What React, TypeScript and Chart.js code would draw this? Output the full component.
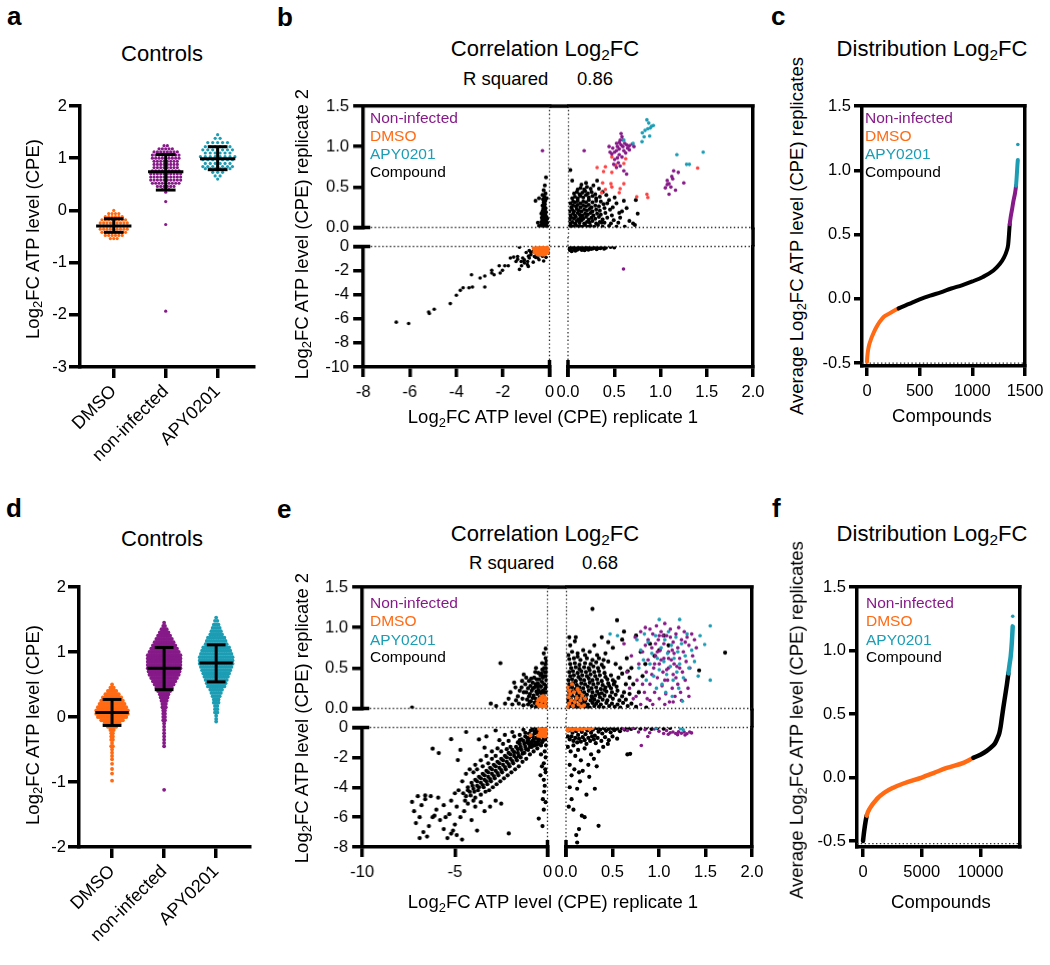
import React, { useEffect, useRef } from "react";
import { Chart, registerables } from "chart.js";
Chart.register(...registerables);

const FONT = "'Liberation Sans', Arial, Helvetica, sans-serif";
Chart.defaults.font.family = FONT;
Chart.defaults.color = "#000";

const COL_DMSO = "#FF6A13";
const COL_NONINF = "#861A88";
const COL_APY = "#1C9DB4";
const COL_RED = "#FF4242";
const COL_CMP = "#000000";
const catColor: any = { D: COL_DMSO, N: COL_NONINF, A: COL_APY, C: COL_CMP };
const AXW = 3.5;

const groupLabels = ["DMSO", "non-infected", "APY0201"];
const legendNames = ["Non-infected", "DMSO", "APY0201", "Compound"];
const legendColors = [COL_NONINF, COL_DMSO, COL_APY, COL_CMP];

// ---------- panel a (controls, screen 1): rows of [value, count] ----------
const aDmsoRows = [0.0,1, -0.06,4, -0.12,6, -0.18,8, -0.24,9, -0.3,9, -0.36,9, -0.42,8, -0.48,6, -0.54,3];
const aNonInfRows = [1.24,2, 1.18,5, 1.12,8, 1.06,9, 1.0,9, 0.94,8, 0.88,8, 0.82,8, 0.76,9, 0.7,10, 0.64,10, 0.58,10, 0.52,9, 0.46,6, 0.4,3, 0.35,1, 0.17,1, -0.27,1, -1.93,1];
const aApyRows = [1.45,1, 1.38,2, 1.3,5, 1.22,6, 1.16,7, 1.1,6, 1.03,8, 0.97,7, 0.9,6, 0.84,7, 0.8,6, 0.73,3, 0.66,2, 0.6,1];
const aMean = [-0.3, 0.74, 0.99];
const aSdLow = [-0.42, 0.39, 0.78];
const aSdHigh = [-0.16, 1.07, 1.22];

// ---------- panel d (controls, screen 2) ----------
const dDmsoRows = [0.5,1, 0.45,3, 0.4,6, 0.35,9, 0.3,12, 0.25,14, 0.2,16, 0.15,18, 0.1,20, 0.05,20, 0.0,18, -0.05,14, -0.1,10, -0.15,6, -0.2,3, -0.25,2, -0.3,2, -0.35,2, -0.4,1, -0.45,2, -0.5,1, -0.55,1, -0.6,1, -0.65,1, -0.72,1, -0.8,1, -0.87,1, -0.98,1];
const dNonInfRows = [1.45,1, 1.4,2, 1.35,4, 1.3,6, 1.25,8, 1.2,10, 1.15,12, 1.1,14, 1.05,16, 1.0,18, 0.95,20, 0.9,20, 0.85,20, 0.8,20, 0.75,20, 0.7,19, 0.65,18, 0.6,16, 0.55,14, 0.5,12, 0.45,10, 0.4,8, 0.35,6, 0.3,5, 0.25,4, 0.2,3, 0.15,3, 0.1,2, 0.05,2, 0.0,2, -0.05,2, -0.1,1, -0.15,1, -0.2,1, -0.25,1, -0.3,1, -0.35,1, -0.4,1, -0.45,1, -1.12,1];
const dApyRows = [1.53,1, 1.48,2, 1.42,3, 1.37,4, 1.32,5, 1.27,6, 1.22,8, 1.17,9, 1.12,10, 1.07,12, 1.02,13, 0.97,14, 0.92,15, 0.87,15, 0.82,15, 0.77,14, 0.72,13, 0.67,12, 0.62,11, 0.57,10, 0.52,9, 0.47,8, 0.42,6, 0.37,5, 0.32,4, 0.27,3, 0.22,3, 0.17,2, 0.12,2, 0.07,2, 0.02,1, -0.03,1, -0.07,1];
const dMean = [0.07, 0.75, 0.83];
const dSdLow = [-0.13, 0.42, 0.54];
const dSdHigh = [0.27, 1.07, 1.11];

// ---------- panel b (replicate 1 vs replicate 2, screen 1), flat [x,y,...] ----------
const bTL_cmp = [-0.3,0.01, -0.2,0.01, -0.1,0.01, -0.35,0.03, -0.25,0.03, -0.15,0.03, -0.3,0.05, -0.2,0.05, -0.1,0.06, -0.35,0.07, -0.25,0.08, -0.15,0.08, -0.3,0.1, -0.2,0.1, -0.1,0.11, -0.33,0.12, -0.23,0.13, -0.13,0.13, -0.28,0.15, -0.18,0.16, -0.35,0.17, -0.25,0.18, -0.15,0.19, -0.3,0.2, -0.2,0.21, -0.27,0.23, -0.17,0.24, -0.23,0.26, -0.3,0.27, -0.2,0.29, -0.25,0.31, -0.18,0.33, -0.28,0.35, -0.22,0.38, -0.17,0.42, -0.25,0.46, -0.2,0.52, -0.15,0.62, -0.6,0.33, -0.45,0.36, -0.5,0.06, -0.45,0.02, -0.12,0.36, -0.3,0.4];
const bTL_non = [-0.3,0.95];
const bTR_cmp = [0.01,0.01, 0.03,0.02, 0.05,0.01, 0.08,0.03, 0.1,0.01, 0.12,0.02, 0.15,0.01, 0.18,0.03, 0.21,0.01, 0.24,0.02, 0.28,0.01, 0.32,0.03, 0.37,0.01, 0.44,0.02, 0.52,0.01, 0.61,0.01,
 0.02,0.05, 0.04,0.07, 0.07,0.05, 0.09,0.08, 0.12,0.06, 0.14,0.09, 0.17,0.05, 0.2,0.07, 0.23,0.06, 0.26,0.08, 0.3,0.05, 0.34,0.07, 0.39,0.06, 0.46,0.05,
 0.01,0.1, 0.03,0.12, 0.06,0.11, 0.08,0.13, 0.11,0.1, 0.13,0.12, 0.16,0.11, 0.19,0.13, 0.22,0.1, 0.25,0.12, 0.29,0.11, 0.33,0.13, 0.37,0.1, 0.42,0.12, 0.49,0.09,
 0.02,0.15, 0.05,0.17, 0.07,0.15, 0.1,0.18, 0.12,0.16, 0.15,0.15, 0.18,0.17, 0.21,0.16, 0.24,0.18, 0.27,0.15, 0.31,0.17, 0.35,0.16, 0.4,0.18, 0.47,0.15,
 0.01,0.2, 0.04,0.22, 0.06,0.2, 0.09,0.23, 0.11,0.21, 0.14,0.2, 0.17,0.22, 0.2,0.21, 0.23,0.23, 0.26,0.2, 0.3,0.22, 0.34,0.21, 0.39,0.24, 0.45,0.22,
 0.03,0.25, 0.05,0.27, 0.08,0.26, 0.1,0.28, 0.13,0.25, 0.16,0.27, 0.19,0.26, 0.22,0.28, 0.25,0.25, 0.29,0.27, 0.33,0.26, 0.38,0.29,
 0.02,0.3, 0.05,0.32, 0.07,0.31, 0.1,0.33, 0.13,0.3, 0.16,0.32, 0.19,0.31, 0.22,0.34, 0.26,0.31, 0.3,0.33, 0.35,0.32, 0.42,0.3,
 0.04,0.36, 0.07,0.38, 0.1,0.36, 0.13,0.39, 0.16,0.37, 0.19,0.4, 0.22,0.37, 0.26,0.39, 0.3,0.36, 0.34,0.38,
 0.06,0.42, 0.09,0.44, 0.12,0.41, 0.15,0.43, 0.18,0.45, 0.21,0.42, 0.25,0.44, 0.29,0.41,
 0.1,0.47, 0.13,0.49, 0.17,0.47, 0.2,0.5, 0.24,0.48, 0.14,0.53, 0.19,0.55, 0.27,0.52,
 0.02,0.71, 0.04,0.58, 0.48,0.25, 0.52,0.3, 0.55,0.18, 0.58,0.2, 0.6,0.33, 0.63,0.24, 0.56,0.12, 0.66,0.08, 0.7,0.05, 0.72,0.03, 0.73,0.34, 0.75,0.17, 0.5,0.37, 0.44,0.34, 0.41,0.4, 0.37,0.44, 0.33,0.48, 0.31,0.58, 0.36,0.06, 0.54,0.06];
const bTR_non = [0.57,1.02, 0.55,1.05, 0.59,1.0, 0.53,1.0, 0.61,1.04, 0.56,1.08, 0.58,1.12, 0.57,1.16, 0.55,0.97, 0.52,0.95, 0.5,0.93, 0.48,0.98, 0.47,0.91, 0.45,0.93, 0.63,1.02, 0.66,1.01, 0.69,1.03, 0.71,1.0, 0.6,0.95, 0.62,0.92, 0.55,0.9, 0.53,0.86, 0.5,0.84, 0.58,0.87, 0.54,0.8, 0.52,0.74, 0.56,0.76, 0.49,0.78, 0.6,0.7, 0.63,0.66, 0.66,0.96, 0.44,1.0, 0.59,1.08, 0.52,1.04, 0.64,0.98,
 0.17,0.95, 1.14,0.7, 1.19,0.68, 1.12,0.63, 1.07,0.58, 1.09,0.54, 1.05,0.49, 1.11,0.5, 1.07,0.53, 1.25,0.55, 1.09,0.41, 1.13,0.6, 1.16,0.46];
const bTR_apy = [0.85,1.33, 0.87,1.29, 0.886,1.23, 0.9,1.25, 0.86,1.22, 0.8,1.17, 0.83,1.2, 0.88,1.13, 0.82,1.12, 0.797,1.06, 0.7,1.04, 0.6,1.08, 0.92,1.26, 1.175,0.9, 1.46,0.93, 1.28,0.78, 1.31,0.78];
const bTR_red = [0.31,0.74, 0.4,0.75, 0.47,0.87, 0.62,0.85, 0.6,0.79, 0.51,0.77, 0.38,0.69, 0.47,0.68, 0.37,0.55, 0.46,0.54, 0.6,0.54, 0.4,0.47, 0.36,0.43, 0.55,0.43, 0.74,0.38, 0.85,0.41, 0.86,0.37, 0.47,0.5, 0.56,0.48, 1.4,0.735];
const bBL_cmp = [-6.58,-6.28, -6.05,-6.39, -5.19,-5.43, -5.16,-5.56, -4.95,-5.21, -4.26,-4.74, -4.0,-4.05, -3.83,-3.64, -3.71,-3.42, -3.46,-3.42, -3.31,-3.36, -2.78,-3.36, -3.35,-2.34, -2.98,-2.62, -2.78,-2.45, -2.48,-1.98, -2.48,-2.2, -2.38,-2.34, -2.16,-1.6, -2.12,-2.2, -2.02,-1.98, -1.92,-1.6, -1.77,-1.6, -1.68,-0.96, -1.54,-0.88, -1.44,-1.24, -1.37,-0.83, -1.29,-1.9, -1.22,-1.24, -1.15,-0.96, -1.08,-1.37, -1.0,-0.5, -0.94,-1.24, -0.91,-1.65, -0.87,-0.96, -0.8,-0.69, -0.72,-0.41, -0.65,-0.83, -0.58,-0.55, -0.5,-0.96, -0.43,-0.69, -0.29,-0.6, -0.07,-0.33, -0.02,-0.55, -1.29,-0.06, -0.87,-0.33, -1.37,-1.05, -1.08,-1.1,
 -0.1,-0.2, -0.2,-0.5, -0.3,-0.8, -0.15,-0.9, -0.45,-1.1, -0.6,-0.9, -0.7,-1.3, -0.8,-0.5, -0.95,-1.5, -1.1,-1.2, -0.35,-0.3, -0.55,-0.7, -0.25,-1.2, -0.9,-0.8, -1.2,-1.6];
const bBL_dmso = [-0.6,-0.3, -0.55,-0.15, -0.5,-0.45, -0.48,-0.25, -0.45,-0.1, -0.42,-0.55, -0.4,-0.35, -0.38,-0.2, -0.35,-0.05, -0.33,-0.45, -0.3,-0.3, -0.28,-0.15, -0.25,-0.5, -0.22,-0.4, -0.2,-0.25, -0.18,-0.1, -0.15,-0.35, -0.12,-0.2, -0.1,-0.45, -0.08,-0.05, -0.35,-0.6, -0.5,-0.6, -0.62,-0.45, -0.27,-0.62, -0.2,-0.55, -0.65,-0.15, -0.45,-0.4, -0.3,-0.08, -0.15,-0.05, -0.55,-0.35];
const bBR_cmp = [0.01,-0.05, 0.03,-0.15, 0.05,-0.08, 0.07,-0.25, 0.09,-0.05, 0.11,-0.18, 0.13,-0.1, 0.15,-0.3, 0.17,-0.06, 0.19,-0.2, 0.21,-0.12, 0.24,-0.08, 0.27,-0.16, 0.3,-0.06, 0.33,-0.12, 0.37,-0.05, 0.41,-0.1, 0.46,-0.04, 0.5,-0.08, 0.02,-0.3, 0.04,-0.4, 0.06,-0.12, 0.08,-0.35, 0.1,-0.28, 0.12,-0.04, 0.14,-0.22, 0.16,-0.14, 0.18,-0.32, 0.2,-0.04, 0.22,-0.26, 0.25,-0.2, 0.28,-0.1, 0.31,-0.22, 0.35,-0.15, 0.39,-0.18];
const bBR_non = [0.6,-1.87];

// ---------- panel e (replicate 1 vs replicate 2, screen 2) ----------
const eTL_cmp = [-0.05,0.02, -0.1,0.05, -0.15,0.1, -0.2,0.15, -0.08,0.2, -0.12,0.25, -0.18,0.3, -0.06,0.35, -0.1,0.4, -0.14,0.45, -0.08,0.5, -0.12,0.55, -0.1,0.62, -0.1,0.74, -0.2,0.68, -0.29,0.56,
 -0.3,0.03, -0.35,0.08, -0.28,0.13, -0.32,0.19, -0.25,0.22, -0.35,0.27, -0.3,0.33, -0.25,0.38, -0.33,0.43, -0.28,0.48,
 -0.45,0.04, -0.5,0.09, -0.42,0.14, -0.55,0.18, -0.48,0.23, -0.4,0.28, -0.52,0.31, -0.45,0.36, -0.38,0.41, -0.5,0.44,
 -0.62,0.02, -0.7,0.07, -0.65,0.12, -0.75,0.16, -0.6,0.21, -0.7,0.26, -0.64,0.3, -0.58,0.36, -0.72,0.38, -0.66,0.45,
 -0.85,0.03, -0.9,0.09, -0.8,0.13, -0.95,0.18, -0.85,0.22, -0.92,0.28, -0.8,0.32, -0.88,0.37,
 -1.05,0.05, -1.1,0.11, -1.0,0.15, -1.15,0.2, -1.05,0.25, -1.2,0.3, -1.0,0.34,
 -1.3,0.04, -1.35,0.12, -1.28,0.2, -1.4,0.26, -1.28,0.42, -1.37,0.34,
 -1.55,0.06, -1.6,0.15, -1.5,0.22, -1.73,0.26, -1.7,0.1, -2.0,0.2, -1.9,0.05, -2.29,0.06, -2.77,0.03, -3.06,0.06, -2.54,0.56, -7.31,0.01, -2.1,0.12, -1.8,0.32,
 -0.04,0.12, -0.16,0.2, -0.22,0.07, -0.06,0.28, -0.2,0.4, -0.04,0.45, -0.18,0.5, -0.05,0.58, -0.38,0.1, -0.4,0.2, -0.55,0.27, -0.78,0.25, -0.96,0.08, -1.15,0.38, -0.62,0.5];
const eTL_dmso = [-0.05,0.02, -0.15,0.04, -0.25,0.02, -0.35,0.05, -0.45,0.03, -0.55,0.06, -0.1,0.08, -0.2,0.1, -0.3,0.09, -0.4,0.12, -0.5,0.1, -0.15,0.14, -0.25,0.15, -0.35,0.13, -0.08,0.12];
const eTR_cmp = [0.02,0.01, 0.05,0.03, 0.09,0.02, 0.13,0.01, 0.17,0.03, 0.21,0.02, 0.25,0.01, 0.3,0.03, 0.35,0.02, 0.4,0.01, 0.46,0.03, 0.52,0.02, 0.58,0.01, 0.66,0.03, 0.75,0.02, 0.86,0.01,
 0.03,0.06, 0.07,0.07, 0.11,0.05, 0.15,0.07, 0.19,0.06, 0.23,0.05, 0.28,0.07, 0.32,0.06, 0.37,0.05, 0.43,0.07, 0.49,0.06, 0.55,0.05, 0.61,0.07, 0.7,0.06,
 0.01,0.1, 0.05,0.11, 0.09,0.09, 0.13,0.11, 0.17,0.1, 0.21,0.12, 0.26,0.1, 0.3,0.11, 0.34,0.09, 0.39,0.11, 0.44,0.1, 0.5,0.12, 0.57,0.1, 0.64,0.11,
 0.02,0.15, 0.06,0.16, 0.1,0.14, 0.14,0.16, 0.18,0.15, 0.22,0.17, 0.27,0.15, 0.31,0.16, 0.36,0.14, 0.41,0.16, 0.47,0.15, 0.53,0.17, 0.6,0.15,
 0.03,0.2, 0.07,0.21, 0.11,0.19, 0.15,0.21, 0.19,0.2, 0.24,0.22, 0.28,0.2, 0.33,0.21, 0.38,0.19, 0.43,0.21, 0.49,0.2, 0.55,0.22, 0.62,0.2,
 0.02,0.25, 0.06,0.26, 0.1,0.24, 0.14,0.26, 0.18,0.25, 0.23,0.27, 0.27,0.25, 0.32,0.26, 0.37,0.24, 0.42,0.26, 0.48,0.25, 0.54,0.27,
 0.03,0.3, 0.07,0.31, 0.11,0.29, 0.16,0.31, 0.2,0.3, 0.25,0.32, 0.29,0.3, 0.34,0.31, 0.39,0.29, 0.45,0.31, 0.51,0.3,
 0.02,0.35, 0.06,0.36, 0.1,0.34, 0.15,0.36, 0.19,0.35, 0.24,0.37, 0.28,0.35, 0.33,0.36, 0.38,0.34, 0.44,0.36, 0.5,0.35,
 0.04,0.4, 0.08,0.41, 0.13,0.39, 0.17,0.41, 0.22,0.4, 0.26,0.42, 0.31,0.4, 0.36,0.41, 0.42,0.39, 0.48,0.41,
 0.03,0.45, 0.07,0.46, 0.12,0.44, 0.16,0.46, 0.21,0.45, 0.25,0.47, 0.3,0.45, 0.35,0.46, 0.41,0.44,
 0.05,0.5, 0.1,0.51, 0.14,0.49, 0.19,0.51, 0.24,0.5, 0.29,0.52, 0.34,0.5, 0.4,0.51,
 0.04,0.55, 0.09,0.56, 0.14,0.54, 0.2,0.56, 0.26,0.55, 0.32,0.57, 0.38,0.54,
 0.03,0.61, 0.08,0.62, 0.15,0.6, 0.22,0.62, 0.28,0.6, 0.35,0.62,
 0.02,0.66, 0.06,0.7, 0.12,0.68, 0.04,0.78, 0.09,0.83, 0.03,0.88, 0.1,0.88, 0.18,0.72, 0.25,0.7, 0.3,0.78, 0.28,1.23, 0.42,0.68, 0.5,0.75, 0.545,1.09, 0.6,0.85, 0.65,0.62, 0.7,0.5, 0.75,0.9, 0.8,0.7, 0.85,0.55, 0.9,0.8, 0.95,0.65, 1.0,0.72, 1.05,0.9, 1.1,0.78, 0.72,0.3, 0.68,0.38, 0.78,0.2, 0.82,0.4, 1.43,0.47, 1.71,0.69, 0.38,0.88, 0.45,0.82, 0.62,0.95,
 0.05,0.08, 0.12,0.04, 0.2,0.09, 0.28,0.13, 0.35,0.18, 0.41,0.23, 0.46,0.28, 0.52,0.33, 0.56,0.38, 0.6,0.43, 0.64,0.3, 0.68,0.18, 0.66,0.46, 0.58,0.5, 0.53,0.55, 0.45,0.58, 0.4,0.6, 0.12,0.64, 0.2,0.66, 0.33,0.66];
const eTR_non = [0.62,0.8, 0.65,0.45, 0.68,0.25, 0.7,0.65, 0.72,0.12, 0.74,0.88, 0.76,0.35, 0.78,0.55, 0.8,0.05, 0.8,0.95, 0.82,0.7, 0.84,0.2, 0.85,1.0, 0.86,0.45, 0.88,0.6, 0.88,0.85, 0.9,0.3, 0.9,0.1, 0.92,0.75, 0.93,0.92, 0.94,0.5, 0.95,0.2, 0.96,0.65, 0.97,1.02, 0.98,0.38, 0.99,0.85, 1.0,0.55, 1.0,0.12, 1.01,0.72, 1.02,0.95, 1.03,0.28, 1.04,0.45, 1.05,0.8, 1.05,0.62, 1.06,1.05, 1.07,0.18, 1.08,0.9, 1.09,0.35, 1.1,0.7, 1.1,0.5, 1.11,0.08, 1.12,0.98, 1.13,0.6, 1.14,0.25, 1.15,0.82, 1.15,0.42, 1.16,0.68, 1.17,0.15, 1.18,0.92, 1.19,0.52, 1.2,0.75, 1.2,0.3, 1.21,1.0, 1.22,0.62, 1.23,0.2, 1.24,0.85, 1.25,0.45, 1.26,0.7, 1.27,0.95, 1.28,0.35, 1.29,0.58, 1.3,0.88, 1.31,0.25, 1.32,0.78, 1.33,0.5, 1.35,0.92, 1.36,0.65, 1.38,0.85, 1.4,0.75, 0.92,0.42, 0.96,0.8, 1.02,0.6, 1.08,0.48, 1.12,0.88, 1.16,0.55, 0.85,0.78, 0.9,0.98, 0.98,0.7, 1.04,0.9, 1.1,0.62, 1.18,0.38, 1.22,0.5, 1.28,0.82, 0.95,0.55, 1.0,0.9, 1.06,0.35, 1.14,0.72, 0.75,0.15, 0.82,0.3, 0.87,0.12, 0.93,0.05, 1.06,0.05, 1.15,0.08, 1.24,0.1, 1.32,0.15];
const eTR_apy = [0.47,0.92, 0.55,0.9, 1.0,1.1, 1.22,1.1, 1.55,1.02, 1.49,0.79, 1.55,0.35, 1.25,0.09, 0.78,0.5, 0.8,0.72, 0.83,0.6, 0.86,0.35, 0.88,0.82, 0.9,0.55, 0.92,0.68, 0.94,0.4, 0.96,0.9, 0.98,0.62, 1.0,0.48, 1.02,0.75, 1.03,0.3, 1.05,0.58, 1.06,0.85, 1.08,0.42, 1.09,0.68, 1.1,0.95, 1.12,0.52, 1.13,0.78, 1.15,0.35, 1.16,0.62, 1.18,0.88, 1.19,0.45, 1.2,0.7, 1.22,0.55, 1.24,0.8, 1.26,0.38, 1.28,0.65, 1.3,0.92, 1.32,0.5, 1.35,0.72, 1.38,0.58, 0.97,0.25, 1.07,0.2, 1.14,0.15, 1.21,0.25, 0.84,0.92, 0.76,0.85, 1.44,0.9, 1.42,0.4];
const eTR_dmso = [0.01,0.02, 0.03,0.06, 0.05,0.1, 0.02,0.14, 0.04,0.18, 0.07,0.03, 0.09,0.08, 0.11,0.13, 0.08,0.2, 0.13,0.05, 0.15,0.1, 0.17,0.16, 0.12,0.24, 0.19,0.04, 0.01,0.26, 0.06,0.3, 0.16,0.02, 0.2,0.12, 0.14,0.2, 0.03,0.22];
const eBL_cmp = [-0.1,-0.1, -0.2,-0.3, -0.3,-0.15, -0.4,-0.5, -0.5,-0.25, -0.6,-0.7, -0.7,-0.4, -0.8,-0.9, -0.9,-0.55, -1.0,-1.1, -1.1,-0.7, -1.2,-1.3, -1.3,-0.9, -1.4,-1.5, -1.5,-1.1, -1.6,-1.7, -1.7,-1.3, -1.8,-1.9, -1.9,-1.5, -2.0,-2.1, -2.1,-1.7, -2.2,-2.3, -2.3,-1.9, -2.4,-2.5, -2.5,-2.1, -2.6,-2.7, -2.7,-2.3, -2.8,-2.9, -2.9,-2.5, -3.0,-3.1, -3.1,-2.7, -3.2,-3.3, -3.3,-2.9, -3.4,-3.5, -3.5,-3.1, -3.6,-3.7, -3.7,-3.3, -3.8,-3.9, -3.9,-3.5, -4.0,-4.1, -4.1,-3.7, -4.2,-4.3, -4.3,-4.0, -4.4,-4.6,
 -0.15,-0.6, -0.25,-0.9, -0.35,-1.2, -0.45,-0.8, -0.55,-1.4, -0.65,-1.0, -0.75,-1.6, -0.85,-1.3, -0.95,-1.8, -1.05,-1.5, -1.15,-2.1, -1.25,-1.7, -1.35,-2.3, -1.45,-2.0, -1.55,-2.6, -1.65,-2.2, -1.75,-2.8, -1.85,-2.4, -1.95,-3.0, -2.05,-2.6, -2.15,-3.2, -2.25,-2.8, -2.35,-3.4, -2.45,-3.0, -2.55,-3.6, -2.65,-3.2, -2.75,-3.8, -2.85,-3.4, -2.95,-4.0, -3.05,-3.6, -3.15,-4.2, -3.25,-3.8, -3.35,-4.3, -3.45,-4.0, -3.6,-4.5, -3.75,-4.2, -3.9,-4.7,
 -0.3,-0.05, -0.6,-0.1, -0.9,-0.2, -1.2,-0.35, -1.5,-0.5, -1.8,-0.6, -2.1,-0.9, -2.4,-1.1, -2.7,-1.4, -3.0,-1.6, -3.3,-1.9, -3.6,-2.2, -3.9,-2.5, -4.2,-2.8, -4.4,-3.1, -0.8,-0.05, -1.3,-0.15, -1.9,-0.3, -2.3,-0.5, -2.6,-0.85, -3.4,-1.35,
 -0.05,-0.4, -0.12,-0.8, -0.08,-1.2, -0.15,-1.6, -0.1,-2.0, -0.2,-2.4, -0.12,-2.8, -0.3,-1.0, -0.35,-1.8, -0.4,-0.2, -0.5,-0.6, -0.5,-1.1, -0.6,-0.35, -0.7,-1.2, -0.8,-0.6, -0.9,-1.0, -1.0,-0.4, -1.1,-1.0, -1.2,-0.6, -1.4,-0.8,
 -0.2,-0.75, -0.35,-0.55, -0.5,-0.9, -0.6,-1.15, -0.75,-0.8, -0.85,-1.05, -0.95,-1.3, -1.05,-0.85, -1.15,-1.45, -1.25,-1.1, -1.35,-1.75, -1.45,-1.3, -1.55,-1.9, -1.6,-1.45, -1.7,-2.05, -1.8,-1.65, -1.9,-2.25, -2.0,-1.8, -2.1,-2.45, -2.2,-2.0, -2.3,-2.65, -2.4,-2.2, -2.5,-2.85, -2.6,-2.4, -2.7,-3.05, -2.8,-2.6, -2.9,-3.25, -3.0,-2.8, -3.1,-3.45, -3.2,-3.0, -3.3,-3.6, -3.4,-3.2, -3.5,-3.85, -3.6,-3.4, -3.7,-4.0, -3.8,-3.6, -3.95,-4.3, -4.05,-3.9, -4.15,-4.55, -4.3,-4.2, -4.45,-4.9, -4.55,-4.4, -1.0,-0.7, -1.5,-0.85, -2.0,-1.3, -2.5,-1.6, -3.0,-2.1, -3.5,-2.6, -4.0,-3.0, -0.7,-0.25, -1.6,-1.0, -2.2,-1.45, -2.8,-1.9, -3.2,-2.4, -3.8,-2.8, -4.6,-3.6, -4.8,-4.2, -5.0,-4.4,
 -0.2,-3.5, -0.18,-4.3, -0.25,-4.8, -0.2,-5.5, -0.38,-3.2, -0.47,-6.1, -0.27,-6.6, -0.1,-3.0, -0.15,-3.9, -0.3,-2.6, -0.1,-5.0,
 -7.31,-4.98, -7.0,-4.6, -6.8,-5.2, -6.6,-4.8, -7.2,-5.6, -6.9,-6.0, -7.1,-6.4, -6.7,-7.0, -6.9,-7.4, -6.5,-7.3, -6.4,-6.6, -6.2,-6.0, -6.0,-5.5, -5.8,-6.2, -5.6,-6.8, -5.4,-7.4, -5.2,-7.1, -5.0,-6.5, -5.3,-5.8, -5.6,-5.2, -5.9,-4.7, -6.3,-4.6, -5.2,-4.9, -4.9,-5.3, -4.7,-6.0, -4.61,-7.5, -4.5,-5.6, -4.3,-5.1, -4.1,-6.2, -3.8,-6.9, -3.9,-5.3, -4.0,-4.9, -3.6,-5.0, -3.4,-5.6, -3.1,-5.3, -2.8,-4.9, -2.09,-7.09, -2.5,-5.1, -6.6,-4.55, -6.1,-5.9, -5.5,-6.0, -5.1,-6.9, -4.9,-7.2,
 -6.2,-1.42, -5.87,-1.71, -5.2,-0.78, -4.84,-2.18, -4.39,-0.3, -3.7,-0.8, -3.3,-0.6, -4.7,-1.5, -2.8,-0.2];
const eBL_dmso = [-0.05,-0.05, -0.15,-0.15, -0.25,-0.05, -0.35,-0.2, -0.45,-0.1, -0.1,-0.3, -0.2,-0.4, -0.3,-0.5, -0.4,-0.35, -0.5,-0.55, -0.05,-0.5, -0.15,-0.6, -0.92,-0.53, -0.25,-0.25, -0.35,-0.6, -0.1,-0.2];
const eBR_cmp = [0.01,-0.05, 0.03,-0.2, 0.05,-0.1, 0.07,-0.35, 0.09,-0.05, 0.11,-0.25, 0.13,-0.5, 0.15,-0.12, 0.17,-0.3, 0.19,-0.05, 0.21,-0.45, 0.23,-0.2, 0.25,-0.08, 0.27,-0.35, 0.29,-0.15, 0.31,-0.55, 0.33,-0.05, 0.35,-0.28, 0.37,-0.12, 0.39,-0.4, 0.41,-0.06, 0.43,-0.22, 0.46,-0.1, 0.48,-0.32, 0.5,-0.05, 0.52,-0.18, 0.55,-0.08, 0.58,-0.25, 0.6,-0.04, 0.63,-0.14, 0.66,-0.06, 0.7,-0.1, 0.74,-0.03, 0.8,-0.08, 0.86,-0.04, 0.92,-0.1, 0.98,-0.05, 1.05,-0.08, 1.12,-0.03,
 0.02,-0.6, 0.04,-0.8, 0.06,-0.6, 0.08,-0.9, 0.1,-0.7, 0.12,-1.0, 0.14,-0.75, 0.16,-0.95, 0.18,-0.65, 0.2,-0.85, 0.22,-1.1, 0.24,-0.7, 0.26,-0.9, 0.28,-0.6, 0.3,-0.8, 0.32,-1.05, 0.34,-0.7, 0.38,-0.9, 0.42,-0.65, 0.46,-0.85, 0.5,-0.6, 0.55,-0.75,
 0.02,-1.3, 0.05,-1.6, 0.08,-1.2, 0.1,-1.9, 0.13,-1.5, 0.16,-2.2, 0.04,-2.5, 0.09,-2.8, 0.18,-2.9, 0.15,-3.6, 0.06,-3.2, 0.12,-4.1, 0.31,-4.1, 0.06,-4.8, 0.03,-5.3, 0.17,-5.9, 0.14,-6.8, 0.12,-7.7, 0.35,-6.58, 0.22,-4.5, 0.25,-3.3, 0.2,-1.4, 0.27,-1.8, 0.24,-2.5, 0.3,-2.1, 0.69,-1.76, 0.66,-1.8, 0.4,-1.3, 0.35,-1.6, 0.45,-1.1, 0.08,-5.5, 0.11,-7.2, 0.2,-6.0, 0.04,-4.0, 0.14,-3.0, 0.33,-2.6];
const eBR_non = [0.62,-0.1, 0.66,-0.2, 0.72,-0.05, 0.81,-1.2, 0.78,-0.3, 0.85,-0.15, 0.9,-0.35, 0.95,-0.1, 1.0,-0.25, 1.05,-0.4, 1.08,-0.2, 1.12,-0.35, 1.15,-0.3, 1.18,-0.4, 1.21,-0.28, 1.24,-0.38, 1.27,-0.3, 1.3,-0.42, 1.33,-0.3, 1.35,-0.36, 1.1,-0.45, 1.2,-0.48, 1.28,-0.5, 0.88,-0.6];
const eBR_apy = [1.23,-0.08, 1.26,-0.15, 0.97,-0.05];
const eBR_dmso = [0.01,-0.03, 0.03,-0.12, 0.05,-0.06, 0.07,-0.18, 0.09,-0.04, 0.11,-0.1, 0.13,-0.15, 0.15,-0.05, 0.17,-0.12, 0.19,-0.08, 0.22,-0.04, 0.25,-0.1, 0.28,-0.05, 0.02,-0.2];

// ---------- panel c / f: ranked averages ----------
const cRank = [0,3,10,20,40,60,90,120,160,200,240,300,400,500,600,700,800,900,1000,1100,1200,1260,1300,1325,1340,1348,1355,1365,1378,1390,1405,1415,1422,1428,1432];
const cAvg = [-0.49,-0.45,-0.4,-0.36,-0.31,-0.27,-0.22,-0.18,-0.14,-0.12,-0.1,-0.075,-0.04,-0.005,0.025,0.05,0.08,0.105,0.135,0.17,0.22,0.27,0.32,0.37,0.42,0.5,0.58,0.64,0.7,0.76,0.82,0.88,0.96,1.04,1.08];
const cCat = ["D","D","D","D","D","D","D","D","D","D","D","C","C","C","C","C","C","C","C","C","C","C","C","C","C","C","N","N","N","N","N","A","A","A","A"];
const cTopApy = [1432, 1.2];
const cCutoff = -0.5;
const fRank = [0,100,315,600,1170,1800,2580,3500,5000,6000,7130,8550,9400,10000,10540,11000,11245,11450,11610,11720,11810,11950,12100,12250,12380,12480,12580,12680,12750];
const fAvg = [-0.5,-0.42,-0.3,-0.24,-0.17,-0.12,-0.08,-0.045,0.0,0.035,0.075,0.115,0.155,0.18,0.21,0.245,0.27,0.31,0.35,0.4,0.46,0.55,0.64,0.73,0.82,0.89,0.955,1.07,1.19];
const fCat = ["C","C","D","D","D","D","D","D","D","D","D","D","C","C","C","C","C","C","C","C","C","C","C","C","A","A","A","A","C"];
const fTopApy = [12750, 1.27];
const fCutoff = -0.52;

// ---------- helpers ----------
const f1 = (v: number) => v.toFixed(1);
const pairs = (a: number[]) => {
  const out: any[] = [];
  for (let i = 0; i + 1 < a.length; i += 2) out.push({ x: a[i], y: a[i + 1] });
  return out;
};
const dots = (a: number[], color: string, r: number) => ({
  data: pairs(a), backgroundColor: color, borderColor: color, borderWidth: 0, pointRadius: r, pointHoverRadius: r,
});
const swarm = (rows: number[], center: number, step: number, color: string, r: number) => {
  const data: any[] = [];
  for (let i = 0; i + 1 < rows.length; i += 2) {
    const y = rows[i], n = rows[i + 1];
    for (let k = 0; k < n; k++) data.push({ x: center + (k - (n - 1) / 2) * step, y });
  }
  return { data, backgroundColor: color, borderWidth: 0, pointRadius: r, pointHoverRadius: r };
};
const seg = (x1: number, y1: number, x2: number, y2: number, w: number) => ({
  data: [{ x: x1, y: y1 }, { x: x2, y: y2 }], showLine: true, borderColor: "#000", backgroundColor: "#000", borderWidth: w, pointRadius: 0,
});
const errorBars = (mean: number[], lo: number[], hi: number[], hm: number, hc: number) => {
  const out: any[] = [];
  mean.forEach((m, i) => {
    out.push(seg(i, lo[i], i, hi[i], 3));
    out.push(seg(i - hc, hi[i], i + hc, hi[i], 3));
    out.push(seg(i - hc, lo[i], i + hc, lo[i], 3));
    out.push(seg(i - hm, m, i + hm, m, 3));
  });
  return out;
};
const curve = (ranks: number[], avgs: number[], cats: string[], w: number) => ({
  data: ranks.map((x, i) => ({ x, y: avgs[i] })), showLine: true, pointRadius: 0, borderWidth: w,
  borderColor: "#000", cubicInterpolationMode: "monotone", borderCapStyle: "round",
  segment: { borderColor: (ctx: any) => catColor[cats[ctx.p0DataIndex]] },
});
const refLine = (x1: number, x2: number, y: number) => ({
  data: [{ x: x1, y }, { x: x2, y }], showLine: true, pointRadius: 0, borderWidth: 1.3, borderColor: "#333", borderDash: [1.4, 2.4],
});

const breakPlugin: any = {
  id: "brk",
  beforeDatasetsDraw(chart: any, _a: any, o: any) {
    if (!o || !o.q) return;
    const { ctx, chartArea: a, scales } = chart;
    const q = o.q, gh = o.gh, gv = o.gv;
    const top = q[0] === "T", left = q[1] === "L";
    const xz = scales.x.getPixelForValue(0), yz = scales.y.getPixelForValue(0);
    ctx.save();
    ctx.strokeStyle = "#333"; ctx.lineWidth = 1.3; ctx.setLineDash([1.4, 2.4]);
    ctx.beginPath();
    ctx.moveTo(xz, top ? a.top : a.top - gv); ctx.lineTo(xz, top ? a.bottom + gv : a.bottom);
    ctx.moveTo(left ? a.left : a.left - gh, yz); ctx.lineTo(left ? a.right + gh : a.right, yz);
    ctx.stroke();
    ctx.restore();
  },
  afterDraw(chart: any, _a: any, o: any) {
    if (!o || !o.q) return;
    const { ctx, chartArea: a } = chart;
    const q = o.q, gh = o.gh, gv = o.gv;
    ctx.save();
    ctx.strokeStyle = "#000"; ctx.lineWidth = AXW; ctx.setLineDash([]);
    ctx.beginPath();
    if (q === "TL") {
      ctx.moveTo(a.right, a.top); ctx.lineTo(a.right + gh, a.top);
      ctx.moveTo(a.left - 10, a.bottom); ctx.lineTo(a.left + 7, a.bottom);
    } else if (q === "TR") {
      ctx.moveTo(a.left - gh, a.top); ctx.lineTo(a.left, a.top);
      ctx.moveTo(a.right, a.bottom); ctx.lineTo(a.right, a.bottom + gv);
    } else if (q === "BL") {
      ctx.moveTo(a.left - 10, a.top); ctx.lineTo(a.left + 7, a.top);
      ctx.moveTo(a.right, a.bottom - 7); ctx.lineTo(a.right, a.bottom + 10);
    } else if (q === "BR") {
      ctx.moveTo(a.right, a.top - gv); ctx.lineTo(a.right, a.top);
      ctx.moveTo(a.left, a.bottom - 7); ctx.lineTo(a.left, a.bottom + 10);
    }
    ctx.stroke();
    ctx.restore();
  },
};

function frameAxis(pos: string) {
  return {
    type: "linear", position: pos, display: true, min: 0, max: 1,
    grid: { display: false, drawTicks: false, drawOnChartArea: false, lineWidth: AXW, borderWidth: AXW, borderColor: "#000", drawBorder: true },
    border: { display: true, width: AXW, color: "#000" },
    ticks: { display: false },
    afterFit: (sc: any) => { if (pos === "top") sc.height = 0; else sc.width = 0; sc.paddingLeft = 0; sc.paddingRight = 0; sc.paddingTop = 0; sc.paddingBottom = 0; },
  };
}

function buildConfig(s: any) {
  const [el, et, er, eb] = s.ext;
  const showX = !!s.x.ticks, showY = !!s.y.ticks;
  const mkAxis = (a: any, hor: boolean) => {
    const shown = hor ? showX : showY;
    return {
      type: "linear", position: hor ? "bottom" : "left", display: shown, min: a.min, max: a.max,
      grid: { display: true, drawOnChartArea: false, drawTicks: true, tickLength: a.tickLen ?? 10, tickWidth: AXW, lineWidth: AXW, color: "#000", tickColor: "#000", borderWidth: AXW, borderColor: "#000", drawBorder: true },
      border: { display: true, width: AXW, color: "#000" },
      ticks: {
        autoSkip: false, padding: a.pad ?? 4, color: "#000", font: { family: FONT, size: a.size ?? 16.5 },
        minRotation: a.rot ?? 0, maxRotation: a.rot ?? 0,
        callback: (v: number) => (a.fmt ? a.fmt(v) : String(v)),
      },
      afterBuildTicks: (sc: any) => { sc.ticks = (a.ticks || []).map((v: number) => ({ value: v })); },
      afterFit: (sc: any) => {
        if (!shown) return;
        if (hor) sc.height = eb; else sc.width = el;
        sc.paddingLeft = 0; sc.paddingRight = 0; sc.paddingTop = 0; sc.paddingBottom = 0;
      },
    };
  };
  const scales: any = { x: mkAxis(s.x, true), y: mkAxis(s.y, false) };
  if (s.frameTop) scales.xt = frameAxis("top");
  if (s.frameRight) scales.yr = frameAxis("right");
  // Chart.js paints the first dataset last; reverse so that later entries sit on top
  return {
    type: "scatter",
    data: { datasets: s.datasets.slice().reverse() },
    options: {
      responsive: false, maintainAspectRatio: false, animation: false, devicePixelRatio: 1, events: [],
      layout: { padding: { left: showY ? 0 : el, top: et, right: er, bottom: showX ? 0 : eb } },
      plugins: { legend: { display: false }, tooltip: { enabled: false }, brk: s.brk || false },
      scales,
    },
    plugins: [breakPlugin],
  };
}

function Panel({ spec }: { spec: any }) {
  const ref = useRef<HTMLCanvasElement>(null);
  useEffect(() => {
    const chart = new Chart(ref.current as HTMLCanvasElement, buildConfig(spec) as any);
    return () => chart.destroy();
  }, []);
  const [L, T, R, B] = spec.area;
  const [el, et, er, eb] = spec.ext;
  const w = R - L + el + er, h = B - T + et + eb;
  return <canvas ref={ref} width={w} height={h} style={{ position: "absolute", left: L - el, top: T - et, width: w, height: h }} />;
}

// ---------- specs ----------
const R_B = 2.0, R_E = 2.1, R_C = 1.8;
const yQuadTop = (ticks: boolean) => ({ min: 0, max: 1.5, ticks: ticks ? [0, 0.5, 1, 1.5] : undefined, fmt: f1, tickLen: 10, pad: 4 });

const specA = {
  area: [80, 106, 254, 367], ext: [62, 12, 10, 110],
  x: { min: -0.65, max: 2.7, ticks: [0, 1, 2], fmt: (v: number) => groupLabels[v], rot: 45, size: 18, tickLen: 11, pad: 3 },
  y: { min: -3, max: 2, ticks: [-3, -2, -1, 0, 1, 2], tickLen: 11, pad: 2 },
  datasets: [
    swarm(aDmsoRows, 0, 0.065, COL_DMSO, 1.6),
    swarm(aNonInfRows, 1, 0.064, COL_NONINF, 1.6),
    swarm(aApyRows, 2, 0.095, COL_APY, 1.6),
    ...errorBars(aMean, aSdLow, aSdHigh, 0.34, 0.19),
  ],
};
const specD = {
  area: [79, 587, 250, 847], ext: [62, 12, 10, 110],
  x: { min: -0.635, max: 2.65, ticks: [0, 1, 2], fmt: (v: number) => groupLabels[v], rot: 45, size: 18, tickLen: 11, pad: 3 },
  y: { min: -2, max: 2, ticks: [-2, -1, 0, 1, 2], tickLen: 11, pad: 2 },
  datasets: [
    swarm(dDmsoRows, 0, 0.032, COL_DMSO, 1.9),
    swarm(dNonInfRows, 1, 0.033, COL_NONINF, 1.9),
    swarm(dApyRows, 2, 0.045, COL_APY, 1.9),
    ...errorBars(dMean, dSdLow, dSdHigh, 0.32, 0.18),
  ],
};

const specBTL = {
  area: [363, 106, 549, 227], ext: [50, 12, 9.5, 9.5], frameTop: true, brk: { q: "TL", gh: 9.5, gv: 9.5 },
  x: { min: -8, max: 0 }, y: yQuadTop(true),
  datasets: [dots(bTL_cmp, COL_CMP, R_B), dots(bTL_non, COL_NONINF, R_C)],
};
const specBTR = {
  area: [568, 106, 753, 227], ext: [9.5, 12, 8, 9.5], frameTop: true, frameRight: true, brk: { q: "TR", gh: 9.5, gv: 9.5 },
  x: { min: 0, max: 2 }, y: yQuadTop(false),
  datasets: [dots(bTR_cmp, COL_CMP, R_B), dots(bTR_red, COL_RED, R_C), dots(bTR_non, COL_NONINF, R_C), dots(bTR_apy, COL_APY, R_C)],
};
const specBBL = {
  area: [363, 246, 549, 367], ext: [50, 9.5, 9.5, 45], brk: { q: "BL", gh: 9.5, gv: 9.5 },
  x: { min: -8, max: 0, ticks: [-8, -6, -4, -2, 0], tickLen: 10, pad: 6 },
  y: { min: -10, max: 0, ticks: [-10, -8, -6, -4, -2, 0], tickLen: 10, pad: 4 },
  datasets: [dots(bBL_cmp, COL_CMP, R_C), dots(bBL_dmso, COL_DMSO, 2.6)],
};
const specBBR = {
  area: [568, 246, 753, 367], ext: [14, 9.5, 18, 45], frameRight: true, brk: { q: "BR", gh: 9.5, gv: 9.5 },
  x: { min: 0, max: 2, ticks: [0, 0.5, 1, 1.5, 2], fmt: f1, tickLen: 10, pad: 6 },
  y: { min: -10, max: 0 },
  datasets: [dots(bBR_cmp, COL_CMP, R_B), dots(bBR_non, COL_NONINF, R_C)],
};

const specETL = {
  area: [362, 587, 547, 708], ext: [50, 12, 9.5, 9.5], frameTop: true, brk: { q: "TL", gh: 9.5, gv: 9.5 },
  x: { min: -10, max: 0 }, y: yQuadTop(true),
  datasets: [dots(eTL_cmp, COL_CMP, R_E), dots(eTL_dmso, COL_DMSO, R_E)],
};
const specETR = {
  area: [566, 587, 752, 708], ext: [9.5, 12, 8, 9.5], frameTop: true, frameRight: true, brk: { q: "TR", gh: 9.5, gv: 9.5 },
  x: { min: 0, max: 2 }, y: yQuadTop(false),
  datasets: [dots(eTR_cmp, COL_CMP, R_E), dots(eTR_non, COL_NONINF, R_C), dots(eTR_apy, COL_APY, R_C), dots(eTR_dmso, COL_DMSO, R_E)],
};
const specEBL = {
  area: [362, 727, 547, 847], ext: [50, 9.5, 9.5, 45], brk: { q: "BL", gh: 9.5, gv: 9.5 },
  x: { min: -10, max: 0, ticks: [-10, -5, 0], tickLen: 10, pad: 6 },
  y: { min: -8, max: 0, ticks: [-8, -6, -4, -2, 0], tickLen: 10, pad: 4 },
  datasets: [dots(eBL_cmp, COL_CMP, R_E), dots(eBL_dmso, COL_DMSO, R_E)],
};
const specEBR = {
  area: [566, 727, 752, 847], ext: [14, 9.5, 18, 45], frameRight: true, brk: { q: "BR", gh: 9.5, gv: 9.5 },
  x: { min: 0, max: 2, ticks: [0, 0.5, 1, 1.5, 2], fmt: f1, tickLen: 10, pad: 6 },
  y: { min: -8, max: 0 },
  datasets: [dots(eBR_cmp, COL_CMP, R_E), dots(eBR_non, COL_NONINF, R_C), dots(eBR_apy, COL_APY, R_C), dots(eBR_dmso, COL_DMSO, R_E)],
};

const cX = [-47.5, 1500];
const specC = {
  area: [862, 106, 1025, 366], ext: [50, 12, 20, 45], frameTop: true, frameRight: true,
  x: { min: cX[0], max: cX[1], ticks: [0, 500, 1000, 1500], tickLen: 10, pad: 6 },
  y: { min: -0.523, max: 1.5, ticks: [-0.5, 0, 0.5, 1, 1.5], fmt: f1, tickLen: 8, pad: 3 },
  datasets: [refLine(cX[0], cX[1], cCutoff), curve(cRank, cAvg, cCat, 4), dots(cTopApy, COL_APY, 1.8)],
};
const fX = [-513, 13370];
const specF = {
  area: [857, 587, 1020, 847], ext: [50, 12, 20, 45], frameTop: true, frameRight: true,
  x: { min: fX[0], max: fX[1], ticks: [0, 5000, 10000], tickLen: 10, pad: 6 },
  y: { min: -0.547, max: 1.5, ticks: [-0.5, 0, 0.5, 1, 1.5], fmt: f1, tickLen: 8, pad: 3 },
  datasets: [refLine(fX[0], fX[1], fCutoff), curve(fRank, fAvg, fCat, 4.5), dots(fTopApy, COL_APY, 1.8)],
};

// ---------- text ----------
const Sub2 = () => <span style={{ fontSize: "0.7em", verticalAlign: "-0.28em", lineHeight: 0 }}>2</span>;
function Txt({ x, cy, base, size, color = "#000", bold = false, anchor = "start", children }: any) {
  const top = base !== undefined ? base - 0.8465 * size : cy - 0.49 * size;
  return (
    <div style={{ position: "absolute", left: x, top, fontSize: size, lineHeight: `${size}px`, color, fontWeight: bold ? 700 : 400, whiteSpace: "nowrap", transform: anchor === "middle" ? "translateX(-50%)" : undefined }}>
      {children}
    </div>
  );
}
function VTxt({ cx, cy, size, children }: any) {
  return (
    <div style={{ position: "absolute", left: cx, top: cy, fontSize: size, lineHeight: `${size}px`, whiteSpace: "nowrap", transform: "translate(-50%, -50%) rotate(-90deg)" }}>
      {children}
    </div>
  );
}
function Legend({ x, ys }: { x: number; ys: number[] }) {
  return (
    <>
      {legendNames.map((n, i) => (
        <Txt key={n} x={x} cy={ys[i]} size={15.5} color={legendColors[i]}>{n}</Txt>
      ))}
    </>
  );
}
const LogFC = () => <>Log<Sub2 />FC</>;

export default function App() {
  const TS = 22, AS = 18.5;
  return (
    <div style={{ position: "absolute", left: 0, top: 0, width: 1050, height: 965, background: "#fff", fontFamily: FONT, color: "#000", overflow: "hidden" }}>
      {[specA, specD, specBTL, specBTR, specBBL, specBBR, specETL, specETR, specEBL, specEBR, specC, specF].map((s, i) => (
        <Panel key={i} spec={s} />
      ))}
      <Txt x={7} base={25} size={26} bold>a</Txt>
      <Txt x={277} base={26} size={26} bold>b</Txt>
      <Txt x={771} base={25} size={26} bold>c</Txt>
      <Txt x={6} base={517} size={26} bold>d</Txt>
      <Txt x={277} base={518} size={26} bold>e</Txt>
      <Txt x={772} base={517} size={26} bold>f</Txt>
      <Txt x={162} cy={54} size={TS} anchor="middle">Controls</Txt>
      <Txt x={162} cy={539} size={TS} anchor="middle">Controls</Txt>
      <Txt x={545} cy={49} size={TS} anchor="middle">Correlation <LogFC /></Txt>
      <Txt x={545} cy={534} size={TS} anchor="middle">Correlation <LogFC /></Txt>
      <Txt x={932} cy={49} size={TS} anchor="middle">Distribution <LogFC /></Txt>
      <Txt x={932} cy={534} size={TS} anchor="middle">Distribution <LogFC /></Txt>
      <Txt x={463} cy={79} size={AS}>R squared</Txt>
      <Txt x={577} cy={79} size={AS}>0.86</Txt>
      <Txt x={469} cy={563} size={AS}>R squared</Txt>
      <Txt x={582} cy={563} size={AS}>0.68</Txt>
      <VTxt cx={33} cy={239} size={AS}><LogFC /> ATP level (CPE)</VTxt>
      <VTxt cx={33} cy={725} size={AS}><LogFC /> ATP level (CPE)</VTxt>
      <VTxt cx={302} cy={234} size={AS}><LogFC /> ATP level (CPE) replicate 2</VTxt>
      <VTxt cx={302} cy={718} size={AS}><LogFC /> ATP level (CPE) replicate 2</VTxt>
      <Txt x={553} cy={417} size={AS} anchor="middle"><LogFC /> ATP level (CPE) replicate 1</Txt>
      <Txt x={553} cy={902} size={AS} anchor="middle"><LogFC /> ATP level (CPE) replicate 1</Txt>
      <VTxt cx={797} cy={236} size={AS}>Average <LogFC /> ATP level (CPE) replicates</VTxt>
      <VTxt cx={797} cy={720} size={AS}>Average <LogFC /> ATP level (CPE) replicates</VTxt>
      <Txt x={942} cy={416} size={AS} anchor="middle">Compounds</Txt>
      <Txt x={941} cy={902} size={AS} anchor="middle">Compounds</Txt>
      <Legend x={370} ys={[117.5, 136, 154, 172]} />
      <Legend x={865} ys={[117.5, 136, 154, 172]} />
      <Legend x={370} ys={[602.5, 621, 639.5, 657]} />
      <Legend x={866} ys={[602.5, 621, 639.5, 657]} />
    </div>
  );
}
